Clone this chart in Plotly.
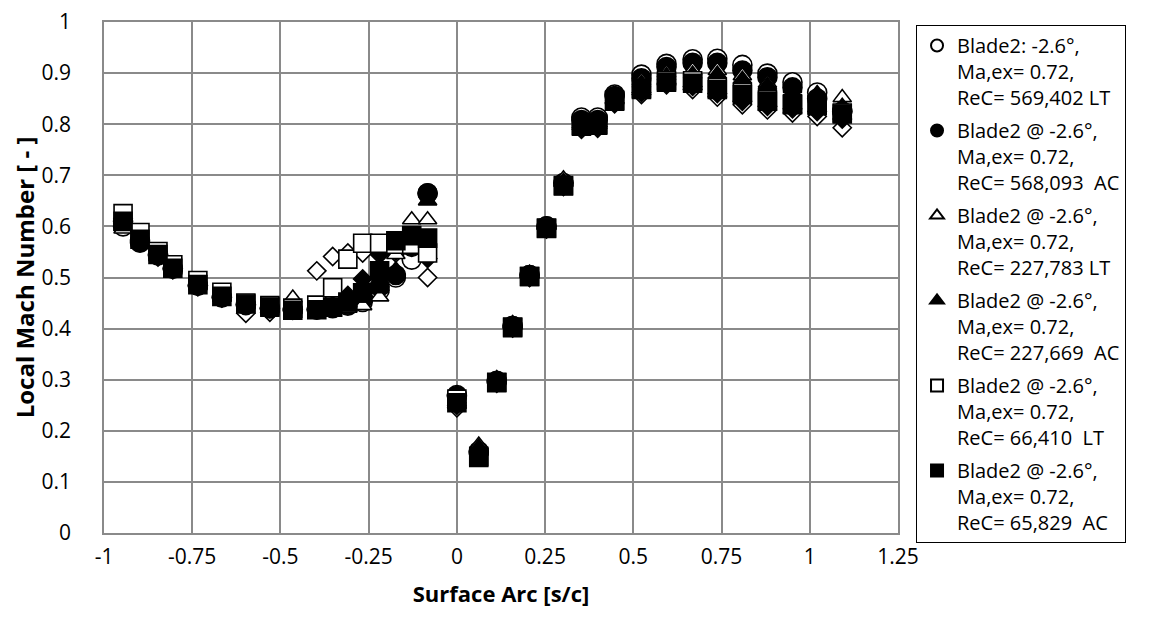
import plotly.graph_objects as go

# ---------------- data ----------------
x_pressure = [-0.946, -0.898, -0.847, -0.805, -0.734, -0.666, -0.598, -0.530, -0.465,
              -0.397, -0.352, -0.309, -0.267, -0.219, -0.173, -0.128, -0.083]
x_suction = [0.0, 0.062, 0.113, 0.158, 0.206, 0.254, 0.302, 0.353, 0.399, 0.447,
             0.523, 0.594, 0.668, 0.738, 0.809, 0.880, 0.951, 1.021, 1.092]
surface_arc = x_pressure + x_suction

# pressure side then suction side
ma_569402_LT = [0.600, 0.572, 0.545, 0.518, 0.485, 0.462, 0.447, 0.440, 0.437, 0.437, 0.440, 0.445, 0.452, 0.475, 0.500, 0.535, 0.665,
                0.270, 0.160, 0.298, 0.405, 0.505, 0.600, 0.685, 0.813, 0.813, 0.858, 0.897, 0.918, 0.927, 0.928, 0.916, 0.899, 0.882, 0.862, 0.825]
ma_568093_AC = [0.610, 0.568, 0.543, 0.517, 0.484, 0.461, 0.446, 0.440, 0.437, 0.438, 0.441, 0.447, 0.457, 0.482, 0.505, 0.560, 0.665,
                0.268, 0.158, 0.297, 0.405, 0.505, 0.600, 0.684, 0.808, 0.808, 0.855, 0.890, 0.912, 0.920, 0.920, 0.905, 0.892, 0.872, 0.850, 0.825]
ma_227783_LT = [0.595, 0.580, 0.550, 0.522, 0.486, 0.463, 0.448, 0.441, 0.460, 0.438, 0.438, 0.440, 0.445, 0.462, 0.545, 0.613, 0.613,
                0.255, 0.172, 0.302, 0.410, 0.508, 0.602, 0.693, 0.805, 0.806, 0.853, 0.885, 0.900, 0.905, 0.905, 0.895, 0.880, 0.870, 0.858, 0.852]
ma_227669_AC = [0.600, 0.578, 0.548, 0.520, 0.486, 0.462, 0.447, 0.440, 0.438, 0.438, 0.440, 0.450, 0.460, 0.478, 0.515, 0.568, 0.650,
                0.262, 0.168, 0.300, 0.408, 0.506, 0.601, 0.688, 0.802, 0.803, 0.850, 0.880, 0.895, 0.898, 0.898, 0.888, 0.876, 0.872, 0.860, 0.835]
ma_66410_LT = [0.625, 0.588, 0.551, 0.525, 0.494, 0.471, 0.450, 0.445, 0.440, 0.446, 0.480, 0.536, 0.567, 0.567, 0.565, 0.565, 0.548,
               0.262, 0.150, 0.295, 0.403, 0.502, 0.597, 0.680, 0.798, 0.800, 0.847, 0.870, 0.885, 0.885, 0.872, 0.862, 0.848, 0.840, 0.838, 0.822]
ma_65829_AC = [0.610, 0.575, 0.545, 0.518, 0.486, 0.463, 0.448, 0.442, 0.436, 0.437, 0.442, 0.452, 0.470, 0.513, 0.572, 0.582, 0.577,
               0.255, 0.148, 0.294, 0.402, 0.502, 0.596, 0.679, 0.796, 0.798, 0.845, 0.868, 0.882, 0.880, 0.868, 0.858, 0.845, 0.838, 0.836, 0.820]
ma_extra_open = [0.615, 0.575, 0.540, 0.515, 0.482, 0.460, 0.430, 0.432, 0.440, 0.513, 0.541, 0.548, 0.548, 0.545, 0.548, 0.555, 0.500,
                 0.245, 0.153, 0.293, 0.401, 0.500, 0.595, 0.678, 0.790, 0.792, 0.840, 0.858, 0.877, 0.868, 0.853, 0.838, 0.828, 0.822, 0.815, 0.793]
ma_extra_filled = [0.605, 0.575, 0.543, 0.517, 0.484, 0.461, 0.447, 0.440, 0.436, 0.437, 0.445, 0.465, 0.497, 0.548, 0.552, 0.560, 0.537,
                   0.250, 0.155, 0.295, 0.402, 0.501, 0.596, 0.680, 0.793, 0.795, 0.842, 0.862, 0.880, 0.874, 0.860, 0.845, 0.835, 0.830, 0.825, 0.810]

NB = "\u00a0"
series_names = [
    "Blade2: -2.6°,<br>Ma,ex= 0.72,<br>ReC= 569,402 LT",
    "Blade2 @ -2.6°,<br>Ma,ex= 0.72,<br>ReC= 568,093 " + NB + "AC",
    "Blade2 @ -2.6°,<br>Ma,ex= 0.72,<br>ReC= 227,783 LT",
    "Blade2 @ -2.6°,<br>Ma,ex= 0.72,<br>ReC= 227,669 " + NB + "AC",
    "Blade2 @ -2.6°,<br>Ma,ex= 0.72,<br>ReC= 66,410 " + NB + "LT",
    "Blade2 @ -2.6°,<br>Ma,ex= 0.72,<br>ReC= 65,829 " + NB + "AC",
]
series_values = [ma_569402_LT, ma_568093_AC, ma_227783_LT, ma_227669_AC, ma_66410_LT, ma_65829_AC]
series_symbols = ["circle", "circle", "triangle-up", "triangle-up", "square", "square"]
series_filled = [False, True, False, True, False, True]
symbol_sizes = {"circle": 19, "triangle-up": 16, "square": 18, "diamond": 14}

x_tick_values = [-1, -0.75, -0.5, -0.25, 0, 0.25, 0.5, 0.75, 1, 1.25]
x_tick_labels = ["-1", "-0.75", "-0.5", "-0.25", "0", "0.25", "0.5", "0.75", "1", "1.25"]
y_tick_values = [0, 0.1, 0.2, 0.3, 0.4, 0.5, 0.6, 0.7, 0.8, 0.9, 1]
y_tick_labels = ["0", "0.1", "0.2", "0.3", "0.4", "0.5", "0.6", "0.7", "0.8", "0.9", "1"]

FONT = "Open Sans"


def marker(symbol, filled):
    return dict(symbol=symbol, size=symbol_sizes[symbol],
                color="black" if filled else "white",
                line=dict(color="black", width=1.6))


fig = go.Figure()

# extra diamond series (not shown in the legend)
for vals, filled in [(ma_extra_open, False), (ma_extra_filled, True)]:
    fig.add_trace(go.Scatter(x=surface_arc, y=vals, mode="markers",
                             marker=marker("diamond", filled), showlegend=False))

for name, vals, sym, filled in zip(series_names, series_values, series_symbols, series_filled):
    fig.add_trace(go.Scatter(x=surface_arc, y=vals, mode="markers", name=name,
                             marker=marker(sym, filled), legendgroup=name))

grid = "#8a8a8a"
fig.update_layout(
    width=1149, height=622,
    margin=dict(l=96, r=259, t=14, b=97, autoexpand=False),
    paper_bgcolor="white", plot_bgcolor="white",
    font=dict(family=FONT, color="black", size=20),
    xaxis=dict(range=[-1, 1.25], tickvals=x_tick_values, ticktext=x_tick_labels,
               showgrid=True, gridcolor=grid, gridwidth=1.5, zeroline=False,
               showline=True, mirror=True, linecolor=grid, linewidth=1.5, automargin=False,
               tickfont=dict(size=21), ticks="", ticklabelstandoff=4,
               ticklabeloverflow="allow",
               title=dict(text="<b>Surface Arc [s/c]</b>", font=dict(size=22), standoff=18)),
    yaxis=dict(range=[0, 1], tickvals=y_tick_values, ticktext=y_tick_labels,
               showgrid=True, gridcolor=grid, gridwidth=1.5, zeroline=False,
               showline=True, mirror=True, linecolor=grid, linewidth=1.5, automargin=False,
               tickfont=dict(size=21), ticks="", ticklabelstandoff=27,
               ticklabeloverflow="allow",
               title=dict(text="<b>Local Mach Number [ - ]</b>", font=dict(size=24), standoff=22)),
    legend=dict(x=1.0227, xanchor="left", y=0.9727, yanchor="top", yref="container",
                maxheight=1,
                bgcolor="white", bordercolor="black", borderwidth=1,
                font=dict(family=FONT, size=20, color="black"),
                valign="top", itemsizing="constant", tracegroupgap=4,
                traceorder="grouped"),
)

fig.write_html("out.html")
